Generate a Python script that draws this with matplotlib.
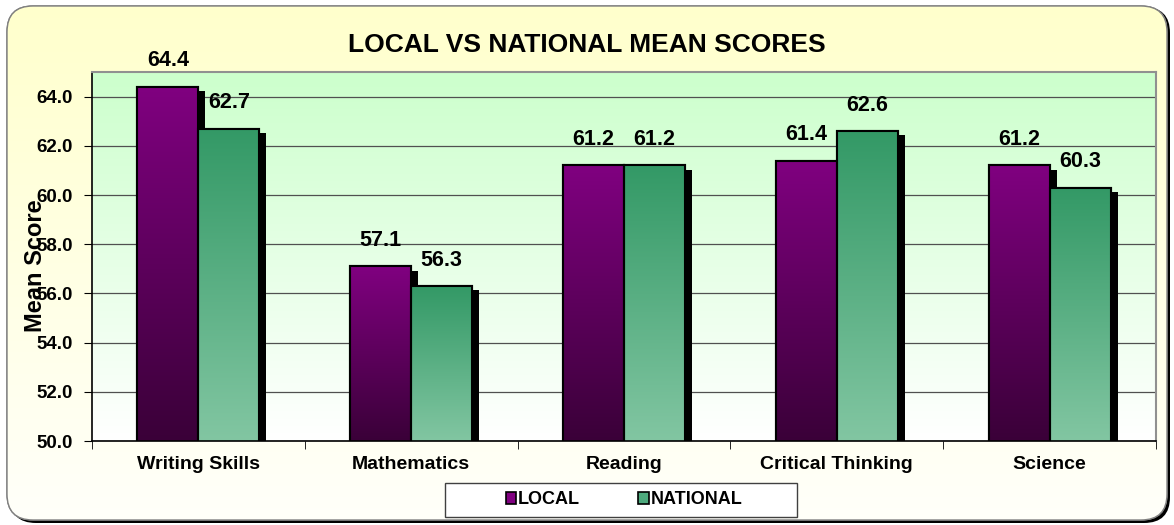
import numpy as np
import matplotlib
matplotlib.use('Agg')
from matplotlib import pyplot as plt
from matplotlib.patches import FancyBboxPatch, Rectangle, Patch
from matplotlib.colors import LinearSegmentedColormap
import matplotlib.patheffects as pe

# data
categories = ['Writing Skills', 'Mathematics', 'Reading', 'Critical Thinking', 'Science']
local_scores = [64.4, 57.1, 61.2, 61.4, 61.2]
national_scores = [62.7, 56.3, 61.2, 62.6, 60.3]
series_names = ['LOCAL', 'NATIONAL']
y_ticks = [50, 52, 54, 56, 58, 60, 62, 64]
y_min, y_max = 50, 65

plt.rcParams['font.family'] = ['Liberation Sans', 'DejaVu Sans']
plt.rcParams['font.weight'] = 'bold'

W, H = 1174, 525
fig = plt.figure(figsize=(W / 100, H / 100), dpi=100)
fig.patch.set_facecolor('white')

# outer rounded panel with a yellow->white gradient and a shadow
bg = fig.add_axes([0, 0, 1, 1], zorder=-10)
bg.set_xlim(0, W)
bg.set_ylim(0, H)
bg.axis('off')
shadow = FancyBboxPatch((10, 2), 1160, 516, boxstyle='round,pad=0,rounding_size=26',
                        facecolor='black', edgecolor='none')
bg.add_patch(shadow)
panel = FancyBboxPatch((7, 5), 1160, 514, boxstyle='round,pad=0,rounding_size=26',
                       facecolor='#FFFFCC', edgecolor='#808080', lw=1)
bg.add_patch(panel)
panel_cmap = LinearSegmentedColormap.from_list('panel', ['#FFFFFA', '#FFFFCC'])
im = bg.imshow(np.linspace(0, 1, 256).reshape(-1, 1), extent=[7, 1167, 5, 519],
               origin='lower', aspect='auto', cmap=panel_cmap, zorder=1)
im.set_clip_path(panel)
edge = FancyBboxPatch((7, 5), 1160, 514, boxstyle='round,pad=0,rounding_size=26',
                      facecolor='none', edgecolor='#808080', lw=1, zorder=2)
bg.add_patch(edge)

# plot area
ax = fig.add_axes([92 / W, 1 - 441 / H, (1156 - 92) / W, (441 - 72) / H])
ax.set_facecolor('none')
x = np.arange(len(categories))
bw = 0.287

area_cmap = LinearSegmentedColormap.from_list('area', ['#FFFFFF', '#CCFFCC'])
ax.imshow(np.linspace(0, 1, 256).reshape(-1, 1), extent=[-0.5, 4.5, y_min, y_max],
          origin='lower', aspect='auto', cmap=area_cmap, zorder=0)

purple_cmap = LinearSegmentedColormap.from_list('purple', ['#3A0038', '#800080'])
green_cmap = LinearSegmentedColormap.from_list('green', ['#82C6A2', '#339966'])

shadow_fx = [pe.SimplePatchShadow(offset=(5, -3), shadow_rgbFace='black', alpha=1.0), pe.Normal()]

for offset, vals, cmap, base in [(-bw / 2, local_scores, purple_cmap, '#800080'),
                                 (bw / 2, national_scores, green_cmap, '#339966')]:
    bars = ax.bar(x + offset, vals, bw, color=base, edgecolor='black', lw=1.5,
                  zorder=2, path_effects=shadow_fx)
    for b in bars:
        bx, bh = b.get_x(), b.get_height()
        gim = ax.imshow(np.linspace(0, 1, 256).reshape(-1, 1),
                        extent=[bx, bx + b.get_width(), y_min, bh],
                        origin='lower', aspect='auto', cmap=cmap, zorder=2.2)
        gim.set_clip_path(b)
    ax.bar(x + offset, vals, bw, fill=False, edgecolor='black', lw=1.5, zorder=2.4)
    for xi, v in zip(x + offset, vals):
        ax.annotate(f'{v:.1f}', (xi, v), xytext=(0, 11), textcoords='offset points',
                    ha='center', va='bottom', fontsize=15.5, fontweight='bold')

ax.set_xlim(-0.5, 4.5)
ax.set_ylim(y_min, y_max)
ax.set_yticks(y_ticks)
ax.set_yticklabels([f'{t:.1f}' for t in y_ticks], fontsize=13.5, fontweight='bold')
ax.set_xticks(x)
ax.set_xticklabels(categories, fontsize=14, fontweight='bold')
ax.set_xticks(np.arange(-0.5, 5, 1), minor=True)
ax.tick_params(axis='x', which='major', length=0, pad=11)
ax.tick_params(axis='x', which='minor', length=6, direction='out', color='black')
ax.tick_params(axis='y', length=6, direction='out', pad=8)
ax.yaxis.grid(True, color='#505050', lw=0.9, zorder=1)
ax.set_axisbelow(True)
for s in ['left', 'bottom']:
    ax.spines[s].set_color('black')
    ax.spines[s].set_linewidth(1.2)
for s in ['top', 'right']:
    ax.spines[s].set_color('#909090')
    ax.spines[s].set_linewidth(1.5)

fig.text(587 / W, 1 - 45 / H, 'LOCAL VS NATIONAL MEAN SCORES', ha='center', va='center',
         fontsize=19, fontweight='bold')
fig.text(36 / W, 1 - 266 / H, 'Mean Score', rotation=90, ha='center', va='center',
         fontsize=17, fontweight='bold')

# legend with a separate box
bg.add_patch(Rectangle((445, H - 517), 352, 34, facecolor='white', edgecolor='#404040',
                       lw=1, zorder=3))
handles = [Patch(facecolor='#800080', edgecolor='black', lw=1.2),
           Patch(facecolor='#4DAA7D', edgecolor='black', lw=1.2)]
fig.legend(handles, series_names, loc='center', bbox_to_anchor=(624 / W, 1 - 500 / H),
           ncol=2, frameon=False, prop={'size': 13, 'weight': 'bold'},
           handlelength=0.6, handleheight=0.6, handletextpad=0.1, columnspacing=3.2)

fig.savefig('out.png', dpi=100)
